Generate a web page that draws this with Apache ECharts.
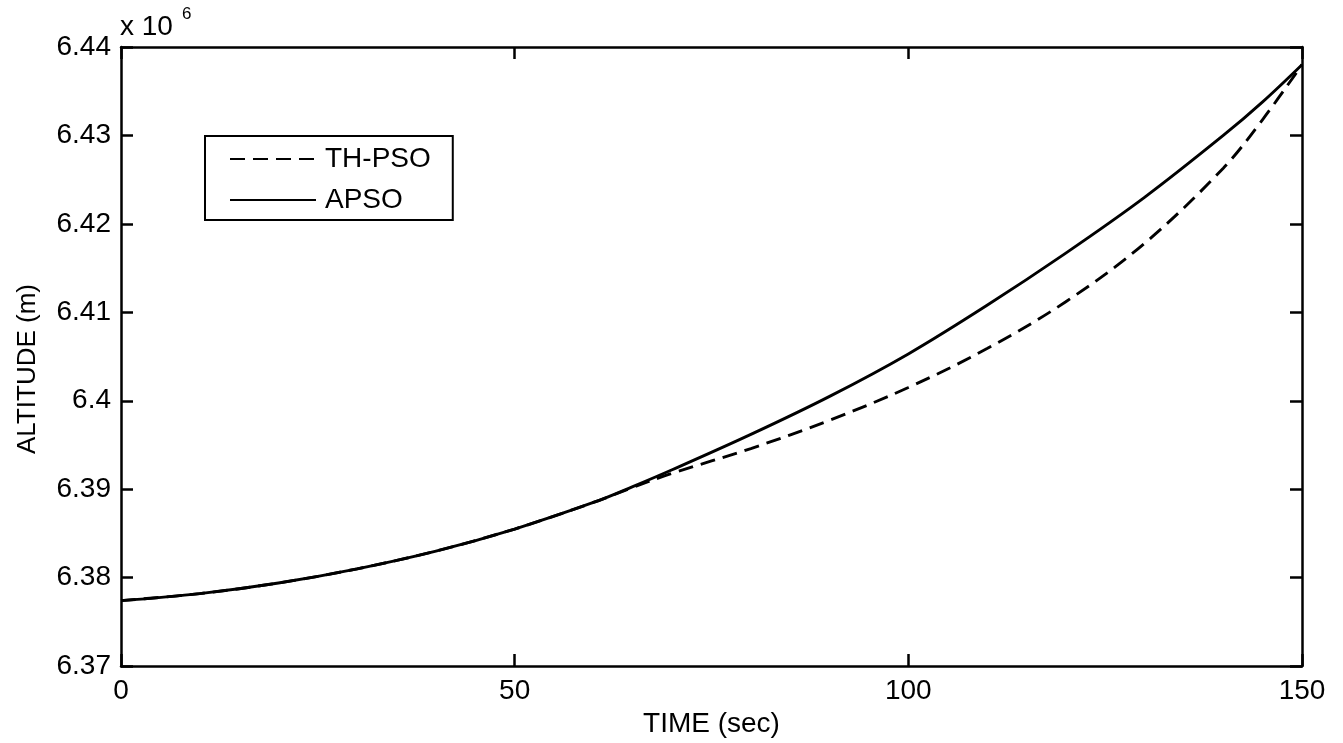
<!DOCTYPE html>
<html>
<head>
<meta charset="utf-8">
<script src="https://cdn.jsdelivr.net/npm/echarts@6/dist/echarts.min.js"></script>
<style>
html,body{margin:0;padding:0;background:#fff;}
#chart{width:1343px;height:743px;}
</style>
</head>
<body>
<div id="chart"></div>
<script>
// Data (altitude in units of 10^6 m)
const time  = [0, 10, 20, 30, 40, 50, 60, 65, 70, 80, 90, 100, 110, 120, 130, 140, 145, 150];
const apso  = [6.3774, 6.3782, 6.3794, 6.3810, 6.3830, 6.3855, 6.3885, 6.3903, 6.3922, 6.3962, 6.4005, 6.4053, 6.4108, 6.4167, 6.4230, 6.4300, 6.4338, 6.4380];
const thpso = [6.3774, 6.3782, 6.3794, 6.3810, 6.3830, 6.3855, 6.3885, 6.3902, 6.3918, 6.3946, 6.3978, 6.4015, 6.4059, 6.4112, 6.4178, 6.4263, 6.4318, 6.4380];
const seriesNames = ['TH-PSO', 'APSO'];
const xTicks = [0, 50, 100, 150];
const yTicks = [6.37, 6.38, 6.39, 6.40, 6.41, 6.42, 6.43, 6.44];
const xTitle = 'TIME (sec)';
const yTitle = 'ALTITUDE (m)';

const FONT = '"Liberation Sans", Arial, Helvetica, sans-serif';
const chart = echarts.init(document.getElementById('chart'), null, {renderer: 'canvas'});

function pairs(xs, ys) { return xs.map((x, i) => [x, ys[i]]); }
function axLine() { return {show: true, onZero: false, lineStyle: {color: '#000', width: 2.5}}; }
function axTick() { return {show: true, inside: true, length: 12, lineStyle: {color: '#000', width: 2.5}}; }

const option = {
  animation: false,
  backgroundColor: '#fff',
  color: ['#000', '#000'],
  grid: {left: 121, right: 41, top: 47, bottom: 76, containLabel: false},
  legend: {
    data: seriesNames,
    orient: 'vertical',
    left: 205,
    top: 136,
    itemWidth: 86,
    itemHeight: 14,
    itemGap: 13,
    padding: [9, 22, 6, 24],
    borderColor: '#000',
    borderWidth: 2,
    borderRadius: 0,
    backgroundColor: '#fff',
    itemStyle: {opacity: 0},
    textStyle: {fontFamily: FONT, fontSize: 28, color: '#000', padding: [0, 0, 0, 4]}
  },
  xAxis: [{
    type: 'value', min: xTicks[0], max: xTicks[xTicks.length - 1], interval: 50,
    name: xTitle, nameLocation: 'middle', nameGap: 37,
    nameTextStyle: {fontFamily: FONT, fontSize: 28, color: '#000'},
    axisLine: axLine(),
    axisTick: axTick(),
    axisLabel: {fontFamily: FONT, fontSize: 28, color: '#000', margin: 11},
    splitLine: {show: false}
  }, {
    type: 'value', position: 'top', min: xTicks[0], max: xTicks[xTicks.length - 1], interval: 50,
    axisLine: axLine(),
    axisTick: axTick(),
    axisLabel: {show: false},
    splitLine: {show: false}
  }],
  yAxis: [{
    type: 'value', position: 'left', min: yTicks[0], max: yTicks[yTicks.length - 1], interval: 0.01,
    axisLine: axLine(),
    axisTick: axTick(),
    axisLabel: {fontFamily: FONT, fontSize: 28, color: '#000', margin: 10,
      formatter: v => String(parseFloat(v.toFixed(2)))},
    splitLine: {show: false}
  }, {
    type: 'value', position: 'right', min: yTicks[0], max: yTicks[yTicks.length - 1], interval: 0.01,
    axisLine: axLine(),
    axisTick: axTick(),
    axisLabel: {show: false},
    splitLine: {show: false}
  }],
  graphic: [
    {type: 'text', left: 120, top: 13, style: {text: 'x 10', font: '28px ' + FONT, fill: '#000'}},
    {type: 'text', left: 182, top: 6, style: {text: '6', font: '17px ' + FONT, fill: '#000'}},
    {type: 'text', x: 28, y: 369, rotation: Math.PI / 2,
      style: {text: yTitle, font: '26px ' + FONT, fill: '#000', align: 'center', verticalAlign: 'middle'}}
  ],
  series: [{
    name: seriesNames[0], type: 'line', xAxisIndex: 0, yAxisIndex: 0,
    data: pairs(time, thpso), smooth: 0.35, symbol: 'none', z: 2,
    itemStyle: {color: '#000'},
    lineStyle: {color: '#000', width: 2.9, type: [15, 8]}
  }, {
    name: seriesNames[1], type: 'line', xAxisIndex: 0, yAxisIndex: 0,
    data: pairs(time, apso), smooth: 0.35, symbol: 'none', z: 3,
    itemStyle: {color: '#000'},
    lineStyle: {color: '#000', width: 2.9, type: 'solid'}
  }]
};
chart.setOption(option);
</script>
</body>
</html>
